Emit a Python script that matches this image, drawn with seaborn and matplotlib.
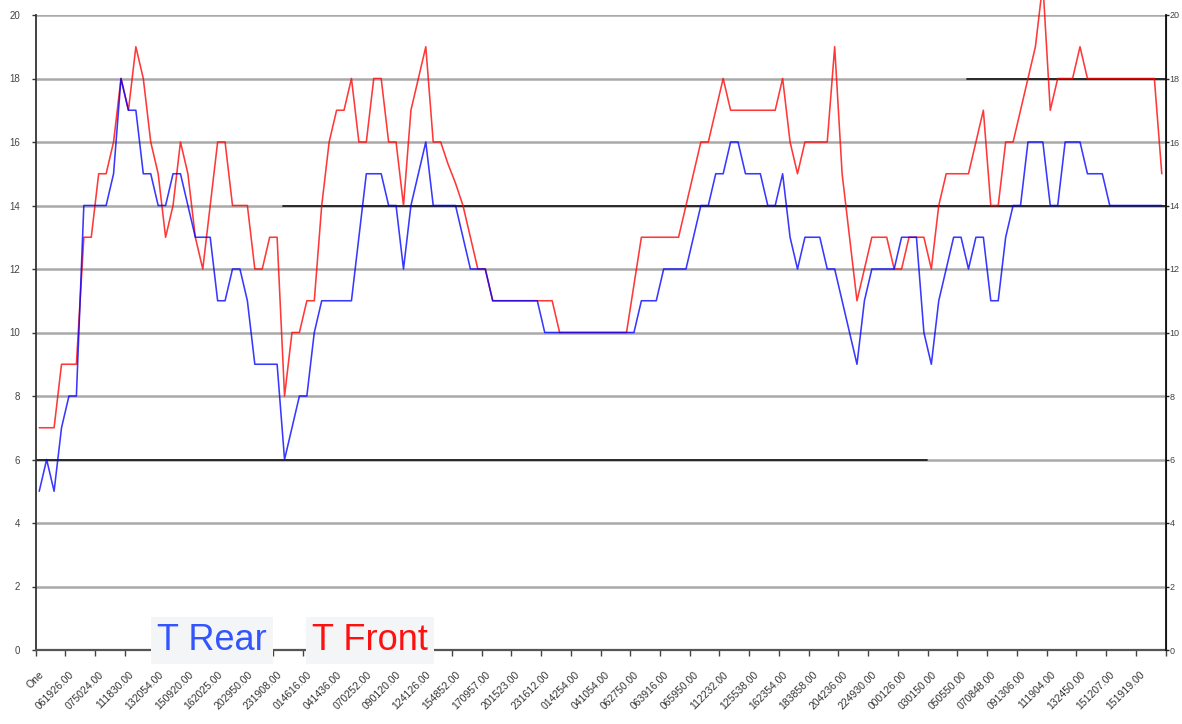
import numpy as np
import pandas as pd
import matplotlib
matplotlib.use('Agg')
import matplotlib.pyplot as plt
import matplotlib.transforms as mtransforms
import seaborn as sns

# ------------------------------------------------------------
# Data (one value per sample)
# ------------------------------------------------------------
t_rear = [5, 6, 5, 7, 8, 8, 14, 14, 14, 14,
          15, 18, 17, 17, 15, 15, 14, 14, 15, 15,
          14, 13, 13, 13, 11, 11, 12, 12, 11, 9,
          9, 9, 9, 6, 7, 8, 8, 10, 11, 11,
          11, 11, 11, 13, 15, 15, 15, 14, 14, 12,
          14, 15, 16, 14, 14, 14, 14, 13, 12, 12,
          12, 11, 11, 11, 11, 11, 11, 11, 10, 10,
          10, 10, 10, 10, 10, 10, 10, 10, 10, 10,
          10, 11, 11, 11, 12, 12, 12, 12, 13, 14,
          14, 15, 15, 16, 16, 15, 15, 15, 14, 14,
          15, 13, 12, 13, 13, 13, 12, 12, 11, 10,
          9, 11, 12, 12, 12, 12, 13, 13, 13, 10,
          9, 11, 12, 13, 13, 12, 13, 13, 11, 11,
          13, 14, 14, 16, 16, 16, 14, 14, 16, 16,
          16, 15, 15, 15, 14, 14, 14, 14, 14, 14,
          14, 14]

t_front = [7, 7, 7, 9, 9, 9, 13, 13, 15, 15,
           16, 18, 17, 19, 18, 16, 15, 13, 14, 16,
           15, 13, 12, 14, 16, 16, 14, 14, 14, 12,
           12, 13, 13, 8, 10, 10, 11, 11, 14, 16,
           17, 17, 18, 16, 16, 18, 18, 16, 16, 14,
           17, 18, 19, 16, 16, 15.3, 14.7, 14, 13, 12,
           12, 11, 11, 11, 11, 11, 11, 11, 11, 11,
           10, 10, 10, 10, 10, 10, 10, 10, 10, 10,
           11.5, 13, 13, 13, 13, 13, 13, 14, 15, 16,
           16, 17, 18, 17, 17, 17, 17, 17, 17, 17,
           18, 16, 15, 16, 16, 16, 16, 19, 15, 13,
           11, 12, 13, 13, 13, 12, 12, 13, 13, 13,
           12, 14, 15, 15, 15, 15, 16, 17, 14, 14,
           16, 16, 17, 18, 19, 21, 17, 18, 18, 18,
           19, 18, 18, 18, 18, 18, 18, 18, 18, 18,
           18, 15]

# category labels, one every 4 samples
x_labels = ['One', '061926.00', '075024.00', '111830.00', '132054.00',
            '150920.00', '162025.00', '202950.00', '231908.00', '014616.00',
            '041436.00', '070252.00', '090120.00', '124126.00', '154852.00',
            '170957.00', '201523.00', '231612.00', '014254.00', '041054.00',
            '062750.00', '063916.00', '065950.00', '112232.00', '125538.00',
            '162354.00', '183858.00', '204236.00', '224930.00', '000126.00',
            '030150.00', '050550.00', '070848.00', '091306.00', '111904.00',
            '132450.00', '151207.00', '151919.00']
label_step = 4
y_ticks = list(range(0, 21, 2))

n = len(t_rear)
df = pd.DataFrame({'sample': np.arange(n), 'T Rear': t_rear, 'T Front': t_front})

sns.set_style('white')
plt.rcParams['font.family'] = ['Liberation Sans', 'DejaVu Sans']

W, H = 1182, 724
fig = plt.figure(figsize=(W / 100, H / 100), dpi=100)
ax = fig.add_axes([35.5 / W, 1 - 650 / H, 1130 / W, 635 / H])

# gridlines (Excel style, some stretches darker)
for y in y_ticks[1:]:
    ax.axhline(y, color='#a9a9a9', lw=1.8, zorder=1)
ax.axhline(14, xmin=0.219, xmax=1, color='#1e1e1e', lw=1.3, zorder=1.1)
ax.axhline(6, xmin=0, xmax=0.789, color='#1e1e1e', lw=1.3, zorder=1.1)
ax.axhline(18, xmin=0.824, xmax=1, color='#1e1e1e', lw=1.3, zorder=1.1)

# the two temperature series
sns.lineplot(data=df, x='sample', y='T Front', color='#ff0000', lw=1.15,
             alpha=0.78, ax=ax, zorder=3)
ax.lines[-1].set_clip_on(False)
sns.lineplot(data=df, x='sample', y='T Rear', color='#0000ff', lw=1.15,
             alpha=0.78, ax=ax, zorder=4)
ax.lines[-1].set_clip_on(False)

ax.set_xlim(-0.5, n - 0.5)
ax.set_ylim(0, 20)
ax.set_xlabel('')
ax.set_ylabel('')

# x axis: labels every 4 samples, tick marks between categories
ax.set_xticks(np.arange(0, n, label_step)[:len(x_labels)])
ax.set_xticklabels(x_labels, rotation=45, ha='right', rotation_mode='anchor',
                   fontsize=7.5, color='#333333')
shift = mtransforms.ScaledTranslation(-0.13, 0, fig.dpi_scale_trans)
for lab in ax.get_xticklabels():
    lab.set_transform(lab.get_transform() + shift)
ax.set_xticks(np.arange(-0.5, n, label_step), minor=True)
ax.tick_params(axis='x', which='major', length=0, pad=14)
ax.tick_params(axis='x', which='minor', length=4, width=1, color='#444444',
               direction='out', bottom=True)

# y axis left
ax.set_yticks(y_ticks)
ax.tick_params(axis='y', which='major', left=True, length=3, width=1,
               color='#333333', labelsize=7, labelcolor='#444444', pad=8)

# y axis right
ax2 = ax.twinx()
ax2.set_ylim(0, 20)
ax2.set_yticks(y_ticks)
ax2.tick_params(axis='y', right=True, length=2, width=1, color='#222222',
                labelsize=6.5, labelcolor='#444444', pad=1)
for a in (ax, ax2):
    a.spines['top'].set_visible(False)
ax.spines['left'].set_color('#333333')
ax.spines['left'].set_linewidth(1.3)
ax.spines['bottom'].set_color('#555555')
ax.spines['bottom'].set_linewidth(1.6)
ax2.spines['right'].set_color('#111111')
ax2.spines['right'].set_linewidth(1.3)
ax2.spines['left'].set_visible(False)
ax2.spines['bottom'].set_visible(False)

# legend-like labels in boxes over the x axis
legend_box = dict(boxstyle='square,pad=0.17', fc='#f4f5f7', ec='none')
fig.text(157 / W, 1 - 650 / H, 'T Rear', color='#3355ff', fontsize=26,
         va='baseline', ha='left', zorder=10, bbox=legend_box)
fig.text(312 / W, 1 - 650 / H, 'T Front', color='#ff1010', fontsize=26,
         va='baseline', ha='left', zorder=10, bbox=legend_box)

plt.savefig('out.png', dpi=100)
